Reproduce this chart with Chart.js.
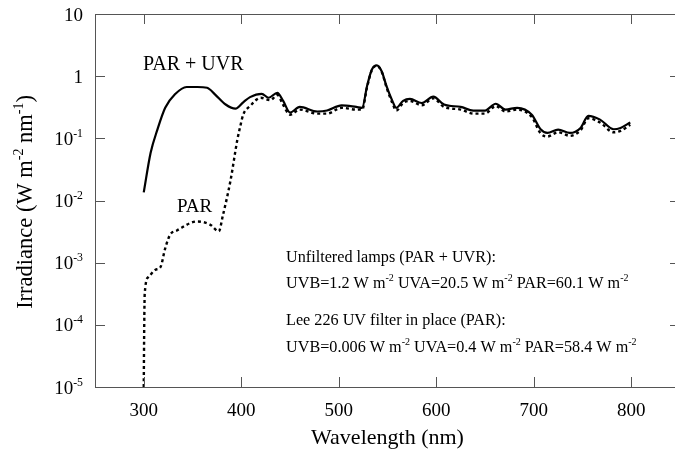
<!DOCTYPE html>
<html>
<head>
<meta charset="utf-8">
<script src="https://cdn.jsdelivr.net/npm/chart.js@4.4.1/dist/chart.umd.min.js"></script>
<style>
  html, body { margin: 0; padding: 0; background: #fff; overflow: hidden; }
  #wrap { width: 690px; height: 452px; }
</style>
</head>
<body>
<div id="wrap"><canvas id="irradianceChart" width="690" height="452"></canvas></div>
<script>
'use strict';

// Unfiltered lamps (PAR + UVR), W m-2 nm-1
const uvrWavelength = [300, 307, 314, 322, 332, 344, 355, 365, 373, 384, 394, 402, 409, 421, 428, 437, 443, 450,
    460, 478, 488, 503, 518, 524, 529, 534, 539, 544, 549, 555, 559, 566, 573, 585, 597, 608, 625, 638, 650,
    661, 671, 683, 698, 707, 714, 725, 737, 748, 756, 768, 782, 789, 799];
const uvrIrradiance = [0.0135, 0.058, 0.138, 0.31, 0.51, 0.67, 0.67, 0.65, 0.51, 0.35, 0.30, 0.38, 0.46, 0.52, 0.45, 0.54, 0.40, 0.26,
    0.32, 0.27, 0.28, 0.34, 0.32, 0.31, 0.69, 1.28, 1.49, 1.20, 0.69, 0.40, 0.31, 0.40, 0.43, 0.37, 0.47, 0.35, 0.32, 0.28, 0.28,
    0.36, 0.29, 0.31, 0.24, 0.14, 0.122, 0.138, 0.122, 0.147, 0.23, 0.20, 0.14, 0.147, 0.18];

// Lee 226 UV filter in place (PAR)
const parWavelength = [300, 300.5, 301, 305, 312, 317, 322, 327, 334, 355, 368, 377, 381, 389, 396, 399, 402, 409, 420, 430, 437, 442, 450,
    460, 478, 488, 503, 518, 524, 529, 534, 539, 544, 549, 555, 559, 566, 573, 585, 597, 608, 625, 638, 650,
    661, 671, 683, 698, 707, 714, 725, 737, 748, 756, 768, 782, 789, 799];
const parIrradiance = [0.00001, 0.0001, 0.00032, 0.00059, 0.00077, 0.00084, 0.0017, 0.0028, 0.0033, 0.0046, 0.0041, 0.0032, 0.0056,
    0.021, 0.095, 0.156, 0.24, 0.33, 0.45, 0.41, 0.50, 0.37, 0.24,
    0.29, 0.25, 0.25, 0.31, 0.29, 0.29, 0.66, 1.26, 1.47, 1.18, 0.66, 0.37, 0.28, 0.37, 0.40, 0.34, 0.44, 0.32, 0.29, 0.25, 0.25,
    0.33, 0.27, 0.29, 0.22, 0.12, 0.107, 0.125, 0.11, 0.135, 0.21, 0.18, 0.125, 0.132, 0.165];

const xTicks = [300, 400, 500, 600, 700, 800];
const yExponents = [-5, -4, -3, -2, -1, 0, 1];

const serif = '"Liberation Serif", "Times New Roman", serif';

function toPoints(xs, ys) {
    return xs.map((x, i) => ({ x: x, y: ys[i] }));
}

// Split "W m^{-2}" into plain and superscript runs
function parseRich(str) {
    let parts = [];
    let re = /\^\{([^}]*)\}/g;
    let last = 0, m;
    while ((m = re.exec(str))) {
        if (m.index > last) parts.push({ t: str.slice(last, m.index), sup: false });
        parts.push({ t: m[1], sup: true });
        last = re.lastIndex;
    }
    if (last < str.length) parts.push({ t: str.slice(last), sup: false });
    return parts;
}

function drawRich(ctx, str, x, y, size, align) {
    let parts = parseRich(str);
    let supSize = size * 0.62;
    let total = 0;
    parts.forEach(p => {
        ctx.font = (p.sup ? supSize : size) + 'px ' + serif;
        p.w = ctx.measureText(p.t).width;
        total += p.w;
    });
    let cx = x;
    if (align === 'right') cx = x - total;
    if (align === 'center') cx = x - total / 2;
    ctx.textAlign = 'left';
    ctx.textBaseline = 'alphabetic';
    parts.forEach(p => {
        ctx.font = (p.sup ? supSize : size) + 'px ' + serif;
        ctx.fillText(p.t, cx, p.sup ? y - size * 0.42 : y);
        cx += p.w;
    });
}

// Boxed axes with inward ticks, tick labels, titles and notes
const axesFrame = {
    id: 'axesFrame',
    afterDraw(chart) {
        let ctx = chart.ctx;
        let area = chart.chartArea;
        let xs = chart.scales.x;
        let ys = chart.scales.y;

        ctx.save();
        ctx.strokeStyle = '#555';
        ctx.lineWidth = 1;
        ctx.strokeRect(area.left + 0.5, area.top + 0.5, area.right - area.left, area.bottom - area.top);

        ctx.beginPath();
        xTicks.forEach(v => {
            let px = Math.round(xs.getPixelForValue(v)) + 0.5;
            ctx.moveTo(px, area.bottom);
            ctx.lineTo(px, area.bottom - 10);
            ctx.moveTo(px, area.top);
            ctx.lineTo(px, area.top + 10);
        });
        yExponents.forEach(e => {
            let py = Math.round(ys.getPixelForValue(Math.pow(10, e))) + 0.5;
            ctx.moveTo(area.left, py);
            ctx.lineTo(area.left + 10, py);
            ctx.moveTo(area.right, py);
            ctx.lineTo(area.right - 10, py);
        });
        ctx.stroke();

        ctx.fillStyle = '#000';
        xTicks.forEach(v => {
            drawRich(ctx, String(v), xs.getPixelForValue(v), area.bottom + 29, 19, 'center');
        });
        yExponents.forEach(e => {
            let label = e === 1 ? '10' : (e === 0 ? '1' : '10^{' + e + '}');
            drawRich(ctx, label, area.left - 12, ys.getPixelForValue(Math.pow(10, e)) + 6.5, 19, 'right');
        });

        drawRich(ctx, 'Wavelength (nm)', (area.left + area.right) / 2, 444, 22, 'center');

        ctx.save();
        ctx.translate(32, 202);
        ctx.rotate(-Math.PI / 2);
        drawRich(ctx, 'Irradiance (W m^{-2} nm^{-1})', 0, 0, 22.5, 'center');
        ctx.restore();

        drawRich(ctx, 'PAR + UVR', 143, 70, 20, 'left');
        drawRich(ctx, 'PAR', 177, 212, 19, 'left');

        drawRich(ctx, 'Unfiltered lamps (PAR + UVR):', 286, 262, 16.2, 'left');
        drawRich(ctx, 'UVB=1.2 W m^{-2} UVA=20.5 W m^{-2} PAR=60.1 W m^{-2}', 286, 288, 16.2, 'left');
        drawRich(ctx, 'Lee 226 UV filter in place (PAR):', 286, 325, 16.2, 'left');
        drawRich(ctx, 'UVB=0.006 W m^{-2} UVA=0.4 W m^{-2} PAR=58.4 W m^{-2}', 286, 352, 16.2, 'left');
        ctx.restore();
    }
};

new Chart(document.getElementById('irradianceChart'), {
    type: 'line',
    data: {
        datasets: [{
            label: 'PAR + UVR',
            data: toPoints(uvrWavelength, uvrIrradiance),
            borderColor: '#000',
            borderWidth: 2.2,
            pointRadius: 0,
            cubicInterpolationMode: 'monotone',
            fill: false
        }, {
            label: 'PAR',
            data: toPoints(parWavelength, parIrradiance),
            borderColor: '#000',
            borderWidth: 2.4,
            borderDash: [3, 3],
            pointRadius: 0,
            cubicInterpolationMode: 'monotone',
            fill: false
        }]
    },
    options: {
        responsive: false,
        animation: false,
        layout: {
            padding: { left: 95, top: 14, right: 10, bottom: 65 }
        },
        scales: {
            x: { type: 'linear', min: 250, max: 850, display: false },
            y: { type: 'logarithmic', min: 1e-5, max: 10, display: false }
        },
        plugins: {
            legend: { display: false },
            tooltip: { enabled: false }
        }
    },
    plugins: [axesFrame]
});
</script>
</body>
</html>
